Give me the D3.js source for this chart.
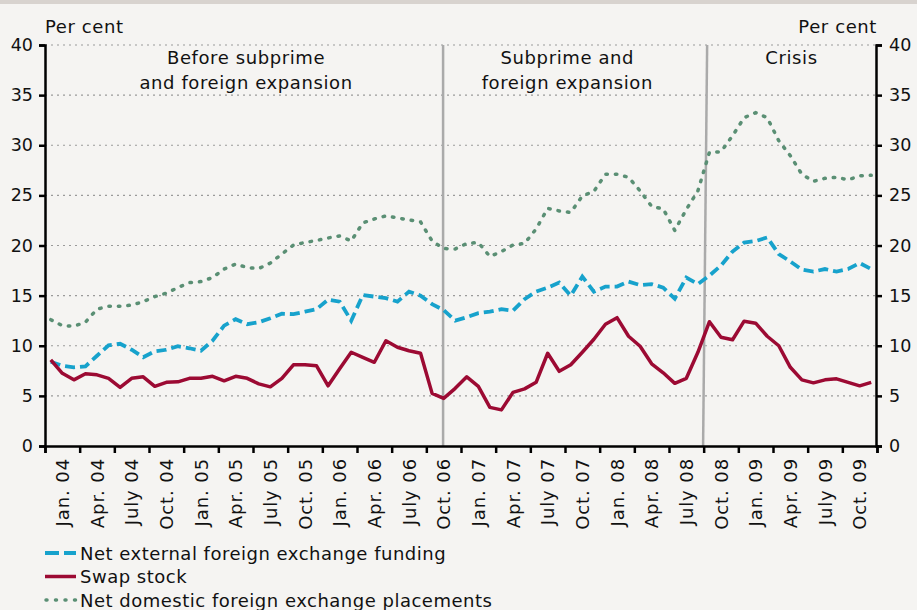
<!DOCTYPE html>
<html><head><meta charset="utf-8">
<script src="https://cdn.jsdelivr.net/npm/d3@7"></script>
<style>
html,body{margin:0;padding:0;background:#f5f4f2;}
svg{display:block;font-family:"DejaVu Sans",sans-serif;}
</style></head>
<body>
<svg id="c" width="917" height="610"></svg>
<script>
// Monthly data, Jan. 2004 – Dec. 2009 (per cent)
const quarterLabels = ["Jan. 04","Apr. 04","July 04","Oct. 04","Jan. 05","Apr. 05","July 05","Oct. 05",
  "Jan. 06","Apr. 06","July 06","Oct. 06","Jan. 07","Apr. 07","July 07","Oct. 07",
  "Jan. 08","Apr. 08","July 08","Oct. 08","Jan. 09","Apr. 09","July 09","Oct. 09"];
const yTicks = [0,5,10,15,20,25,30,35,40];
const netExternal = [8.4,8.0,7.85,7.95,9.0,10.05,10.2,9.6,8.85,9.45,9.6,9.95,
  9.75,9.5,10.5,12.0,12.65,12.15,12.35,12.75,13.2,13.15,13.4,13.65,
  14.6,14.4,12.5,15.05,14.9,14.75,14.4,15.4,15.0,14.15,13.55,12.5,
  12.85,13.25,13.4,13.65,13.5,14.65,15.4,15.8,16.3,15.0,16.9,15.4,
  15.9,15.9,16.4,16.05,16.15,15.8,14.7,16.8,16.15,17.0,18.0,19.4,
  20.3,20.45,20.8,19.15,18.4,17.6,17.4,17.65,17.4,17.65,18.25,17.65];
const swapStock = [8.6,7.25,6.6,7.2,7.1,6.75,5.85,6.75,6.9,5.95,6.35,6.4,
  6.75,6.75,6.95,6.5,6.95,6.75,6.2,5.9,6.75,8.1,8.1,8.0,
  6.0,7.7,9.35,8.85,8.35,10.5,9.85,9.5,9.25,5.25,4.75,5.75,
  6.9,5.95,3.85,3.6,5.35,5.7,6.35,9.25,7.45,8.1,9.35,10.65,
  12.15,12.8,10.95,9.95,8.2,7.3,6.25,6.75,9.35,12.4,10.85,10.6,
  12.45,12.25,10.95,10.0,7.85,6.6,6.3,6.6,6.7,6.35,6.0,6.35];
const netDomestic = [12.6,12.0,11.95,12.35,13.65,13.95,13.95,14.05,14.4,14.9,15.25,15.8,
  16.3,16.4,16.8,17.65,18.15,17.8,17.7,18.25,19.15,20.05,20.3,20.5,
  20.75,20.95,20.45,22.25,22.65,22.95,22.75,22.55,22.35,20.45,19.7,19.65,
  20.2,20.3,18.9,19.4,20.05,20.2,21.65,23.7,23.45,23.3,24.95,25.4,
  27.1,27.1,26.8,25.45,23.9,23.65,21.5,23.6,25.45,29.3,29.35,30.95,
  32.75,33.25,32.75,30.45,28.95,27.1,26.4,26.7,26.8,26.55,26.95,27.0];
const periodLabels = [["Before subprime","and foreign expansion"],["Subprime and","foreign expansion"],["Crisis"]];
const periodCentres = [17.4, 45.2, 64.6];   // in months from Jan. 2004
const dividerTop = [34.45, 57.3];
const dividerBottom = [34.45, 56.95];
const seriesNames = ["Net external foreign exchange funding","Swap stock","Net domestic foreign exchange placements"];

const svg = d3.select("#c");
const W = 917, H = 610;
const m = {l:45, r:877, t:45, b:446};
const FONT = "DejaVu Sans";
svg.append("rect").attr("x",0).attr("y",0).attr("width",W).attr("height",H).attr("fill","#f5f4f2");
svg.append("rect").attr("x",0).attr("y",0).attr("width",W).attr("height",4).attr("fill","#d8d3cf");

const x = d3.scaleLinear().domain([0,72]).range([m.l,m.r]);
const y = d3.scaleLinear().domain([0,40]).range([m.b,m.t]);

// gridlines
svg.append("g").selectAll("line").data(yTicks.filter(d=>d>0)).join("line")
  .attr("x1",m.l).attr("x2",m.r).attr("y1",d=>y(d)).attr("y2",d=>y(d))
  .attr("stroke","#9a9a9a").attr("stroke-width",1.2).attr("stroke-dasharray","2 4");

// dividers
svg.append("g").selectAll("line").data(dividerTop).join("line")
  .attr("x1",d=>x(d)).attr("x2",(d,i)=>x(dividerBottom[i])).attr("y1",y(40)).attr("y2",y(0))
  .attr("stroke","#aaaaaa").attr("stroke-width",2.5);

// period labels
periodLabels.forEach((p,k)=>{
  const cx = x(periodCentres[k]);
  const t = svg.append("text").attr("text-anchor","middle")
    .attr("font-size",18).attr("letter-spacing",0.6).attr("fill","#111");
  p.forEach((l,i)=>t.append("tspan").attr("x",cx).attr("y",64+i*25).text(l));
});

// lines
const line = d3.line().x((d,i)=>x(i+0.5)).y(d=>y(d));
svg.append("path").datum(netDomestic).attr("d",line).attr("fill","none")
  .attr("stroke","#5a8f74").attr("stroke-width",3.5).attr("stroke-linecap","round").attr("stroke-dasharray","1.5 8");
svg.append("path").datum(netExternal).attr("d",line).attr("fill","none")
  .attr("stroke","#17a2cc").attr("stroke-width",3.8).attr("stroke-dasharray","10 5");
svg.append("path").datum(swapStock).attr("d",line).attr("fill","none")
  .attr("stroke","#9c0a33").attr("stroke-width",3.5).attr("stroke-linejoin","round");

// axes
const gl = svg.append("g").attr("transform",`translate(${m.l},0)`)
  .call(d3.axisLeft(y).tickValues(yTicks).tickSize(6).tickPadding(6));
const gr = svg.append("g").attr("transform",`translate(${m.r-1},0)`)
  .call(d3.axisRight(y).tickValues(yTicks).tickSize(6).tickPadding(7));
[gl,gr].forEach(g=>{
  g.select(".domain").attr("stroke","#000").attr("stroke-width",2.5);
  g.selectAll(".tick line").attr("stroke","#000").attr("stroke-width",2.5);
  g.selectAll("text").attr("font-size",17.5).attr("fill","#111").attr("font-family",FONT);
});
const gx = svg.append("g").attr("transform",`translate(0,${m.b})`)
  .call(d3.axisBottom(x).tickValues(d3.range(0,73,3)).tickSize(7).tickFormat(""));
gx.select(".domain").attr("stroke","#000").attr("stroke-width",2.5);
gx.selectAll(".tick line").attr("stroke","#000").attr("stroke-width",2.5);
svg.append("g").selectAll("text").data(quarterLabels).join("text")
  .attr("transform",(d,i)=>`translate(${x(i*3+1.5)+6.5},${m.b+12}) rotate(-90)`)
  .attr("text-anchor","end").attr("font-size",18).attr("letter-spacing",0.9).attr("fill","#111").text(d=>d);

// unit labels
svg.append("text").attr("x",45).attr("y",33).attr("font-size",18).attr("letter-spacing",0.6).attr("fill","#111").text("Per cent");
svg.append("text").attr("x",877).attr("y",33).attr("text-anchor","end").attr("font-size",18).attr("letter-spacing",0.6).attr("fill","#111").text("Per cent");

// legend
const leg = svg.append("g");
const styles = [
  {stroke:"#17a2cc", dash:"14 5", cap:"butt", w:3.8},
  {stroke:"#9c0a33", dash:null, cap:"butt", w:3.5},
  {stroke:"#5a8f74", dash:"1 8.5", cap:"round", w:3.5}];
seriesNames.forEach((n,i)=>{
  const yy = 553 + i*23.5;
  leg.append("line").attr("x1",i==2?46:45).attr("x2",i==2?78:76).attr("y1",yy).attr("y2",yy)
    .attr("stroke",styles[i].stroke).attr("stroke-width",styles[i].w)
    .attr("stroke-dasharray",styles[i].dash).attr("stroke-linecap",styles[i].cap);
  leg.append("text").attr("x",80).attr("y",yy+6.5).attr("font-size",18).attr("letter-spacing",0.5).attr("fill","#111").text(n);
});
</script>
</body></html>
